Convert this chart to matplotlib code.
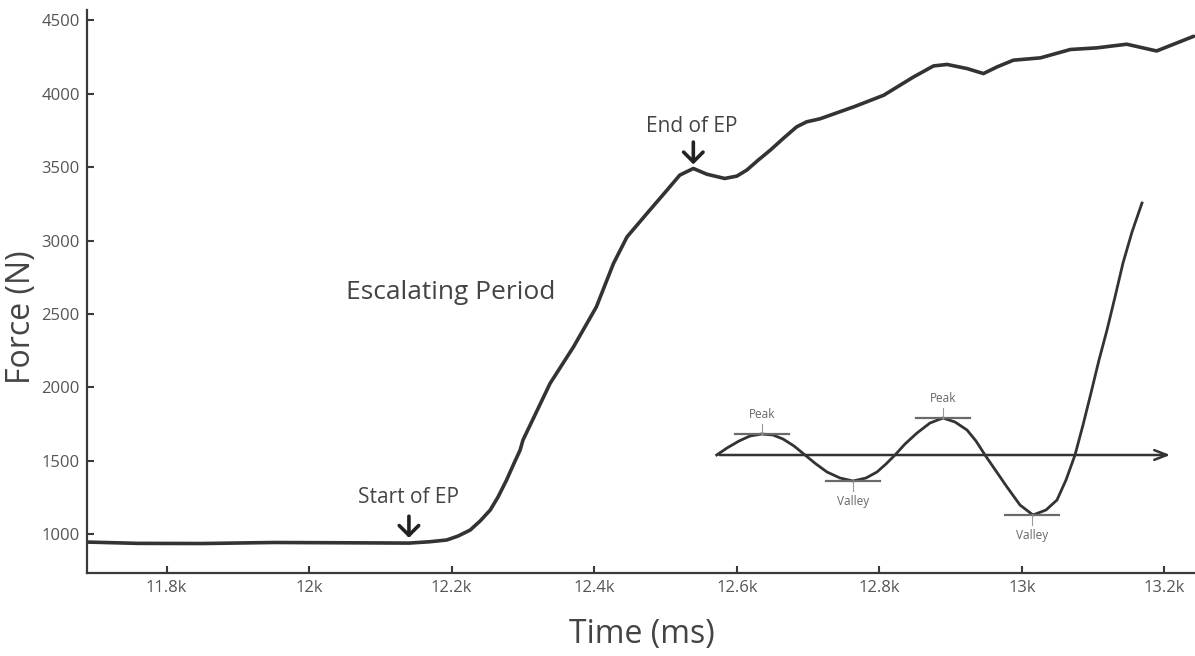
import numpy as np
import matplotlib.pyplot as plt
from matplotlib.ticker import FixedLocator, FuncFormatter

plt.rcParams['font.family'] = ['Open Sans', 'DejaVu Sans']

# force trace (time in ms, force in N)
time_ms = [11688, 11760, 11850, 11950, 12050, 12140, 12169, 12193, 12209, 12226,
           12240, 12254, 12265, 12277, 12287, 12296, 12300, 12338, 12371, 12403,
           12427, 12446, 12474, 12502, 12520, 12539, 12558, 12583, 12600, 12614,
           12630, 12647, 12665, 12684, 12698, 12717, 12764, 12806, 12848, 12876,
           12895, 12923, 12946, 12965, 12988, 13026, 13068, 13105, 13147, 13189,
           13241]
force_n = [945, 936, 935, 942, 940, 938, 947, 959, 986, 1027,
           1089, 1163, 1252, 1368, 1477, 1572, 1640, 2026, 2276, 2548,
           2844, 3025, 3185, 3343, 3446, 3491, 3452, 3423, 3439, 3480,
           3548, 3616, 3695, 3775, 3809, 3830, 3911, 3990, 4115, 4190,
           4200, 4172, 4138, 4183, 4229, 4245, 4302, 4313, 4338, 4292,
           4392]

x_ticks = [11800, 12000, 12200, 12400, 12600, 12800, 13000, 13200]
y_ticks = [1000, 1500, 2000, 2500, 3000, 3500, 4000, 4500]

# schematic inset (its own arbitrary units)
sk_x = [16.7, 27, 39, 50, 61.7, 73, 83, 94, 105, 116, 127, 140, 153, 166, 177, 186,
        195, 205, 217, 230, 243, 255, 267, 276, 285, 296, 307, 320, 333, 346, 357,
        366, 375, 383, 390, 399, 407, 415, 423, 432, 442]
sk_y = [105, 112, 119, 124, 126, 125, 121, 114, 105, 96, 88, 82, 79, 82, 88, 96,
        105, 116, 127, 137, 142, 138, 130, 119, 105, 89, 73, 55, 45, 50, 60,
        80, 105, 135, 163, 200, 230, 263, 297, 328, 357]
sk_labels = ['Peak', 'Valley', 'Peak', 'Valley']
sk_x_ext = [62, 153, 243, 332]
sk_y_ext = [126, 79, 142, 45]

dark = '#3a3a3a'
fig = plt.figure(figsize=(11.95, 6.56), dpi=100)
ax = fig.add_axes([0.0726, 0.1265, 0.9275, 0.858])
ax.plot(time_ms, force_n, color='#333333', lw=2.6, solid_joinstyle='round',
        solid_capstyle='round')

ax.set_xlim(11688, 13243)
ax.set_ylim(734, 4570)
ax.xaxis.set_major_locator(FixedLocator(x_ticks))
ax.yaxis.set_major_locator(FixedLocator(y_ticks))
ax.xaxis.set_major_formatter(FuncFormatter(lambda v, p: f"{v/1000:g}k"))
ax.tick_params(direction='in', length=5, width=1.5, color=dark,
               labelsize=12, labelcolor='#555555', pad=5)
for s in ['top', 'right']:
    ax.spines[s].set_visible(False)
for s in ['left', 'bottom']:
    ax.spines[s].set_color(dark)
    ax.spines[s].set_linewidth(1.6)

ax.set_xlabel('Time (ms)', fontsize=23, color='#444444')
ax.set_ylabel('Force (N)', fontsize=23, color='#444444')
ax.xaxis.set_label_coords(0.501, -0.110)
ax.yaxis.set_label_coords(-0.059, 0.454)
ax.xaxis.label.set_va('center')
ax.yaxis.label.set_va('center')

arrow = dict(arrowstyle='->, head_width=0.7, head_length=0.7', lw=2.6, color='#222222')
ax.annotate('', xy=(12140, 955), xytext=(12140, 1140), arrowprops=arrow)
ax.text(12140, 1250, 'Start of EP', ha='center', va='center', fontsize=15, color='#444444')
ax.annotate('', xy=(12539, 3500), xytext=(12539, 3690), arrowprops=arrow)
ax.text(12537, 3780, 'End of EP', ha='center', va='center', fontsize=15, color='#444444')
ax.text(12199, 2648, 'Escalating Period', ha='center', va='center', fontsize=19,
        color='#444444')

# inset schematic
ins = fig.add_axes([700 / 1195, (656 - 560) / 656, 490 / 1195, 370 / 656])
ins.set_xlim(0, 490)
ins.set_ylim(0, 370)
ins.axis('off')
ins.patch.set_alpha(0)
ins.annotate('', xy=(473, 105), xytext=(16.7, 105),
             arrowprops=dict(arrowstyle='->, head_width=0.35, head_length=0.9',
                             lw=1.8, color='#333333'))
ins.plot(sk_x, sk_y, color='#333333', lw=2.0, solid_joinstyle='round')
for lab, xe, ye in zip(sk_labels, sk_x_ext, sk_y_ext):
    ins.plot([xe - 27, xe + 27], [ye, ye], color='#6a6a6a', lw=1.6)
    if lab == 'Peak':
        ins.plot([xe, xe], [ye, ye + 10], color='#999999', lw=0.8)
        ins.text(xe, ye + 19, lab, ha='center', va='center', fontsize=8.5, color='#666666')
    else:
        ins.plot([xe, xe], [ye, ye - 10], color='#999999', lw=0.8)
        ins.text(xe, ye - 21, lab, ha='center', va='center', fontsize=8.5, color='#666666')

fig.savefig('out.png', dpi=100)
